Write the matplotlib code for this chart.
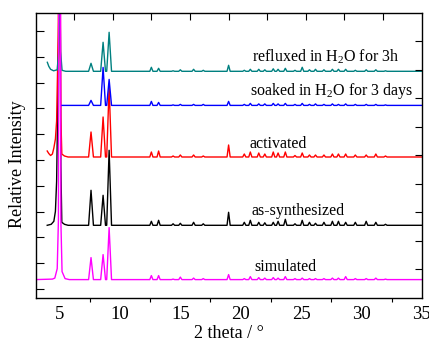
import matplotlib.pyplot as plt
from matplotlib.ticker import MultipleLocator, FixedLocator

# --- data (intensities in arbitrary units) ---
peak_pos = [7.6, 8.6, 9.1, 12.6, 13.2, 14.4, 15.0, 16.1, 16.9, 19.0, 20.3, 20.8, 21.5, 22.0,
            22.7, 23.1, 23.7, 24.5, 25.1, 25.7, 26.2, 26.9, 27.6, 28.1, 28.7, 29.5, 30.4, 31.2, 32.0]

h_simulated = [22, 25, 52, 4, 4, 0.5, 2.5, 1.5, 1, 5, 1, 3, 2, 1.5,
               2, 1.5, 3, 1, 1.5, 1, 1, 1, 1.5, 1.5, 3, 1, 1, 1.5, 0.5]
h_synth = [35, 30, 75, 4, 5, 1.5, 2, 3, 1.5, 13, 3, 5, 3, 2.5,
           3, 4, 6, 1.5, 5, 3, 2, 3, 4, 4, 3, 3, 4, 3, 1]
h_activated = [25, 40, 70, 5, 6, 1, 2, 2, 1, 12, 3, 5, 4, 3,
               5, 4, 5, 1.5, 4, 2, 2, 2, 3, 3, 3, 2, 2, 3, 1]
h_soaked = [5, 38, 26, 4, 3, 0.5, 1, 1, 1, 4, 1, 2, 1.5, 1.5,
            2, 1.5, 2, 1, 2, 1, 1.5, 1, 1.5, 1, 1.5, 1, 1, 1, 0.5]
h_refluxed = [8, 29, 39, 4, 3, 0.5, 1.5, 2, 1, 6, 1, 2, 2, 1.5,
              2.5, 2, 3, 1, 4, 1.5, 2, 1.5, 2, 2, 2, 1, 1.5, 1.5, 0.5]

# low-angle region (incl. the 5 deg reflection)
lead_simulated_x = [3.0, 4.4, 4.6, 4.8, 4.9, 5.0, 5.1, 5.2, 5.45, 5.8]
lead_simulated_y = [0, 0.5, 1.5, 11, 60, 1000, 60, 8, 1, 0]
lead_synth_x = [3.97, 4.3, 4.52, 4.65, 4.75, 4.88, 5.0, 5.1, 5.18, 5.4, 5.7]
lead_synth_y = [0, 1, 4, 14, 44, 150, 300, 60, 3, 1, 0]
lead_activated_x = [3.97, 4.1, 4.25, 4.4, 4.52, 4.65, 4.75, 4.88, 5.0, 5.1, 5.18, 5.4, 5.7]
lead_activated_y = [6, 3.5, 1.5, 3, 9, 18, 36, 120, 300, 40, 3, 1, 0]
lead_soaked_x = [5.1]
lead_soaked_y = [0]
lead_refluxed_x = [3.98, 4.1, 4.25, 4.5, 4.8, 4.92, 5.0, 5.08, 5.2, 5.5]
lead_refluxed_y = [9, 5, 2, 0.5, 1.5, 20, 100, 20, 1, 0]

offsets = {'simulated': 9.4, 'as-synthesized': 63.7, 'activated': 132.0,
           'soaked': 183.6, 'refluxed': 217.7}


def trace(lead_x, lead_y, heights):
    xs, ys = list(lead_x), list(lead_y)
    for p, h in zip(peak_pos, heights):
        hw = 0.2 if p < 10 else 0.13
        xs += [p - hw, p, p + hw]
        ys += [0, h, 0]
    xs.append(35.0)
    ys.append(0)
    return xs, ys


plt.rcParams['font.family'] = 'Liberation Serif'
plt.rcParams['mathtext.fontset'] = 'custom'
plt.rcParams['mathtext.rm'] = 'Liberation Serif'
plt.rcParams['mathtext.default'] = 'regular'

W, H = 429, 340
fig = plt.figure(figsize=(W / 100, H / 100), dpi=100)
rect = [35.5 / W, (H - 297.7) / H, 386.2 / W, 284.7 / H]
ax = fig.add_axes(rect)

series = [
    ('as-synthesized', lead_synth_x, lead_synth_y, h_synth, 'black'),
    ('activated', lead_activated_x, lead_activated_y, h_activated, '#ff0000'),
    ('soaked', lead_soaked_x, lead_soaked_y, h_soaked, '#0000ff'),
    ('refluxed', lead_refluxed_x, lead_refluxed_y, h_refluxed, '#008080'),
    ('simulated', lead_simulated_x, lead_simulated_y, h_simulated, '#ff00ff'),
]
for name, lx, ly, hts, col in series:
    xs, ys = trace(lx, ly, hts)
    ax.plot(xs, [y + offsets[name] for y in ys], color=col, lw=1.0)

ax.set_xlim(3, 35)
ax.set_ylim(-8.7, 276)

lab = dict(fontsize=11.5, va='baseline', ha='left')
ax.text(20.9, 227.7, r'refluxed in H$_2$O for 3h', **lab)
ax.text(20.8, 194.4, r'soaked in H$_2$O for 3 days', **lab)
ax.text(20.75, 141.0, 'activated', **lab)
ax.text(20.9, 73.7, 'as-synthesized', **lab)
ax.text(21.15, 17.7, 'simulated', **lab)

ax.xaxis.set_major_locator(MultipleLocator(5))
ax.xaxis.set_minor_locator(MultipleLocator(2.5))
ax.tick_params(axis='x', which='major', length=0, pad=6, labelsize=13.5)
ax.tick_params(axis='x', which='minor', direction='out', length=3, width=0.8)
ax.yaxis.set_major_locator(MultipleLocator(25.8))
ax.tick_params(axis='y', which='major', direction='in', length=6, width=0.8, labelleft=False)
for s in ax.spines.values():
    s.set_linewidth(1.0)

# second layer: top and right ticks
ax2 = fig.add_axes(rect, frameon=False)
ax2.set_xlim(0, 10)
ax2.set_ylim(0, 10)
ax2.xaxis.set_major_locator(FixedLocator(range(1, 10)))
ax2.yaxis.set_major_locator(FixedLocator(range(1, 10)))
ax2.tick_params(direction='in', length=5, width=0.8, top=True, bottom=False, left=False, right=True,
                labeltop=False, labelbottom=False, labelleft=False, labelright=False)
ax2.patch.set_visible(False)

fig.text(18 / W, 1 - 164 / H, 'Relative Intensity', rotation=90, ha='center', va='center', fontsize=13)
fig.text(229 / W, 1 - 338 / H, '2 theta / \u00b0', ha='center', va='baseline', fontsize=13)

fig.savefig('out.png', dpi=100)
